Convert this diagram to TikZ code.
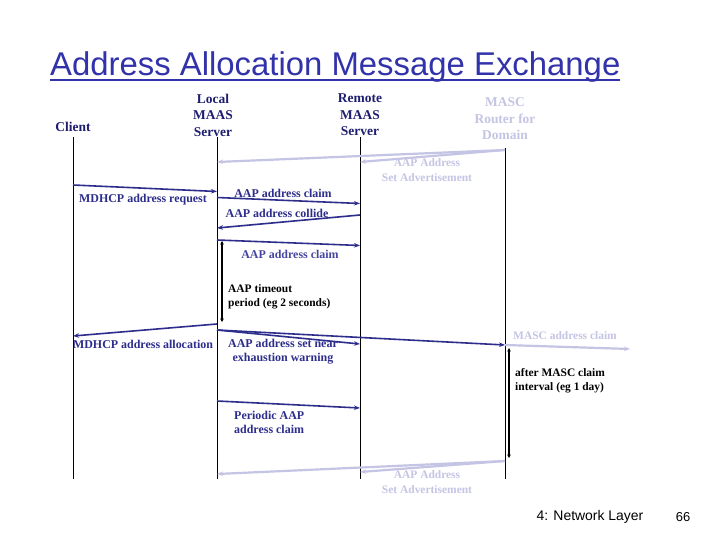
\documentclass[tikz,border=0pt]{standalone}
\usepackage{fontspec}
\setmainfont{Liberation Serif}
\newfontfamily\titlefont{Liberation Sans}
\usetikzlibrary{arrows.meta}
\definecolor{ttl}{RGB}{50,50,170}
\definecolor{navy}{RGB}{30,30,110}
\definecolor{msg}{RGB}{45,45,140}
\definecolor{msgmid}{RGB}{70,70,160}
\definecolor{faint}{RGB}{196,196,228}
\tikzset{
  life/.style={line width=1pt,black},
  msgline/.style={line width=1.6pt,msg,-{Stealth[length=6pt,width=4.5pt]}},
  faintline/.style={line width=2.2pt,faint,-{Stealth[length=6pt,width=4.5pt]}},
  period/.style={line width=2pt,black,{Stealth[length=3.5pt,width=3.5pt]}-{Stealth[length=3.5pt,width=3.5pt]}},
  hdr/.style={font=\bfseries\fontsize{13.5}{16.5}\selectfont,text=navy,align=center,inner sep=0pt},
  lbl/.style={font=\bfseries\fontsize{12}{14}\selectfont,text=msg,inner sep=0pt},
  flbl/.style={font=\bfseries\fontsize{11.5}{15}\selectfont,text=faint,inner sep=0pt,align=center},
  blbl/.style={font=\bfseries\fontsize{11.5}{14}\selectfont,text=black,inner sep=0pt,align=left},
}
\begin{document}
\begin{tikzpicture}[x=1bp,y=-1bp]
\useasboundingbox[fill=white] (0,0) rectangle (720,540);
% title
\node[anchor=base west,inner sep=0pt,text=ttl,font=\titlefont\fontsize{33}{36}\selectfont] (title) at (50,76) {Address Allocation Message Exchange};
\coordinate (ul1) at (50,80); \coordinate (ul2) at (620,80);
\draw[ttl,line width=2pt] (ul1) -- (ul2);
% headers
\node[hdr] (hclient) at (73,127) {Client};
\node[hdr] (hlocal) at (213,115) {Local\\MAAS\\Server};
\node[hdr] (hremote) at (360,115) {Remote\\MAAS\\Server};
\node[hdr,text=faint] (hmasc) at (505,119) {MASC\\Router for\\Domain};
% lifelines
\coordinate (ct) at (73,137);  \coordinate (cb) at (73,479);
\coordinate (lt) at (217,137); \coordinate (lb) at (217,479);
\coordinate (rt) at (360,137); \coordinate (rb) at (360,479);
\coordinate (mt) at (505,148); \coordinate (mb) at (505,479);
\draw[life] (ct) -- (cb);
\draw[life] (lt) -- (lb);
\draw[life] (rt) -- (rb);
\draw[life] (mt) -- (mb);
% 1: set advertisement
\coordinate (a1s) at (505,150); \coordinate (a1l) at (217,162); \coordinate (a1r) at (360,162);
\draw[faintline] (a1s) -- (a1l);
\draw[faintline] (a1s) -- (a1r);
\node[flbl] (la1) at (427,170.5) {AAP Address\\Set Advertisement};
% 2: MDHCP request
\coordinate (r1) at (73,185); \coordinate (r2) at (217,191.5);
\draw[msgline] (r1) -- (r2);
\node[lbl] (lr) at (143,200) {MDHCP address request};
% 3: claim
\coordinate (c1) at (217,197.5); \coordinate (c2) at (360,203.5);
\draw[msgline] (c1) -- (c2);
\node[lbl] (lc) at (283,193) {AAP address claim};
% 4: collide
\coordinate (x1) at (360,215); \coordinate (x2) at (217,228);
\draw[msgline] (x1) -- (x2);
\node[lbl] (lx) at (277,213) {AAP address collide};
% 5: claim
\coordinate (d1) at (217,240); \coordinate (d2) at (360,245.5);
\draw[msgline] (d1) -- (d2);
\node[lbl,text=msgmid] (ld) at (290,254) {AAP address claim};
% timeout
\coordinate (t1) at (222,241); \coordinate (t2) at (222,322);
\draw[period] (t1) -- (t2);
\node[blbl,anchor=west] (lt1) at (228,296.5) {AAP timeout\\period (eg 2 seconds)};
% 6: allocation
\coordinate (al1) at (217,324); \coordinate (al2) at (73,336);
\draw[msgline] (al1) -- (al2);
\node[lbl] (lal) at (143,344) {MDHCP address allocation};
% 7: exhaustion warning
\coordinate (w1) at (217,330); \coordinate (w2) at (360,344); \coordinate (w3) at (505,345);
\draw[msgline] (w1) -- (w2);
\draw[msgline] (w1) -- (w3);
\node[lbl,align=center] (lw) at (283,351.5) {AAP address set near\\exhaustion warning};
% 8: MASC claim
\coordinate (mc1) at (505,345); \coordinate (mc2) at (630,349);
\draw[faintline] (mc1) -- (mc2);
\node[flbl] (lmc) at (565,336) {MASC address claim};
% interval
\coordinate (i1) at (509,348); \coordinate (i2) at (509,458);
\draw[period] (i1) -- (i2);
\node[blbl,anchor=west] (li) at (515,381) {after MASC claim\\interval (eg 1 day)};
% 9: periodic
\coordinate (p1) at (217,401); \coordinate (p2) at (360,408);
\draw[msgline] (p1) -- (p2);
\node[lbl,align=left,anchor=west] (lp) at (234,422) {Periodic AAP\\address claim};
% 10: set advertisement
\coordinate (b1s) at (505,461); \coordinate (b1l) at (217,474); \coordinate (b1r) at (360,472);
\draw[faintline] (b1s) -- (b1l);
\draw[faintline] (b1s) -- (b1r);
\node[flbl] (lb1) at (427,482.5) {AAP Address\\Set Advertisement};
% footer
\node[inner sep=0pt,font=\titlefont\fontsize{14}{16}\selectfont] (foot) at (590,517) {4: Network Layer};
\node[inner sep=0pt,font=\titlefont\fontsize{13}{16}\selectfont] (page) at (683,517) {66};
\end{tikzpicture}
\end{document}
